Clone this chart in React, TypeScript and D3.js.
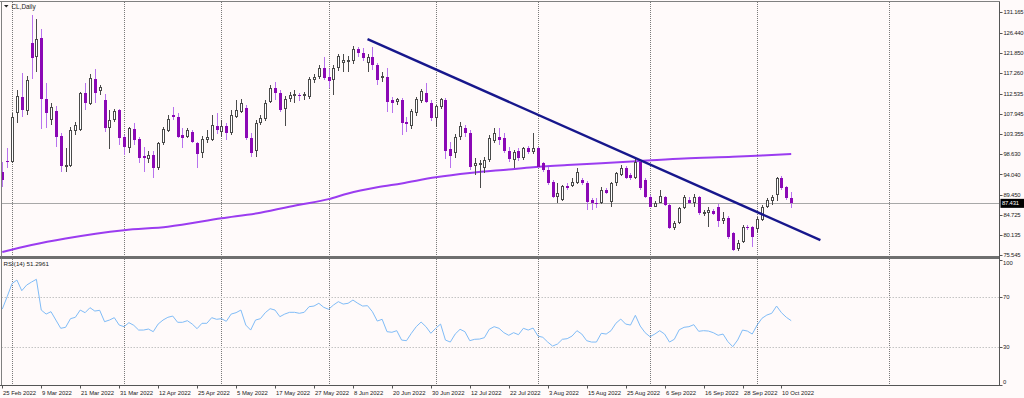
import React from "react";
import * as d3 from "d3";

const W = 1024;
const H = 398;

// ---------- data ----------
const opens = [
  94.7, 97.2, 97.0, 108.0, 111.8, 108.6, 124.1, 121.0, 125.2, 111.2,
  106.4, 108.6, 102.8, 95.8, 96.0, 104.1, 104.2, 112.6, 110.2, 115.8,
  113.1, 111.0, 104.6, 106.4, 108.8, 102.6, 100.0, 104.4, 102.1, 98.3,
  97.5, 98.5, 95.5, 101.2, 104.1, 107.7, 107.1, 103.0, 102.7, 103.8,
  101.2, 99.0, 101.9, 101.9, 105.1, 103.8, 105.1, 103.5, 107.3, 108.4,
  109.2, 102.5, 99.3, 105.8, 106.7, 110.7, 113.8, 112.8, 109.0, 111.2,
  112.1, 112.3, 111.9, 111.8, 115.7, 116.4, 118.3, 116.4, 115.7, 118.3,
  119.5, 119.7, 120.0, 122.7, 121.9, 119.5, 121.0, 119.1, 116.1, 116.4,
  111.0, 110.6, 111.0, 106.1, 105.1, 108.0, 110.9, 112.6, 110.5, 106.9,
  109.4, 111.0, 99.8, 98.9, 102.6, 104.7, 103.6, 96.0, 96.3, 95.5,
  97.4, 101.6, 102.7, 102.3, 99.5, 97.3, 99.3, 97.7, 100.0, 99.2,
  100.0, 96.6, 95.1, 92.4, 89.0, 88.2, 91.3, 91.4, 92.0, 92.8,
  92.2, 88.2, 87.6, 87.4, 90.5, 87.8, 92.0, 93.9, 95.5, 93.9,
  93.2, 97.0, 92.8, 89.0, 86.7, 87.6, 89.0, 87.1, 81.7, 82.9,
  86.3, 88.2, 87.6, 89.0, 85.0, 85.2, 85.6, 86.5, 83.5, 84.0,
  80.6, 76.9, 78.7, 82.1, 82.1, 81.5, 83.6, 86.7, 88.05, 89.35,
  93.3, 91.1, 88.6,
];
const highs = [
  97.0, 100.1, 108.1, 113.4, 117.2, 116.6, 130.5, 129.6, 127.4, 114.9,
  110.3, 109.6, 103.5, 100.0, 105.0, 106.1, 113.0, 115.0, 117.0, 118.1,
  114.5, 112.5, 108.8, 109.0, 109.0, 103.1, 105.0, 105.8, 102.7, 100.4,
  99.3, 99.3, 101.5, 104.8, 107.7, 109.4, 108.0, 104.6, 104.6, 104.2,
  101.5, 102.8, 104.2, 107.6, 108.0, 106.5, 105.8, 108.8, 111.0, 111.2,
  109.9, 103.5, 106.5, 107.6, 111.0, 114.5, 115.3, 113.3, 112.0, 113.0,
  113.4, 112.7, 112.9, 116.4, 117.0, 119.0, 121.0, 118.1, 119.0, 121.6,
  121.6, 121.2, 123.5, 123.2, 123.0, 121.6, 123.3, 119.5, 117.6, 118.3,
  111.8, 111.5, 111.5, 107.3, 109.0, 111.8, 113.5, 114.9, 111.0, 110.0,
  111.5, 111.5, 101.5, 103.2, 106.0, 105.4, 104.2, 97.7, 97.4, 98.0,
  103.0, 104.7, 104.7, 103.5, 100.3, 99.6, 100.0, 100.4, 100.6, 103.5,
  100.4, 97.0, 95.8, 92.8, 92.0, 91.6, 92.0, 93.2, 95.5, 93.2,
  92.6, 88.6, 88.6, 91.2, 90.9, 92.4, 94.7, 96.2, 96.0, 94.3,
  97.5, 97.4, 93.2, 89.3, 87.9, 90.5, 89.1, 87.3, 83.5, 86.7,
  89.4, 89.0, 89.5, 89.1, 85.9, 86.7, 86.2, 87.3, 85.5, 84.5,
  80.9, 79.0, 82.5, 82.5, 82.3, 84.4, 87.1, 88.6, 89.35, 93.5,
  93.7, 91.4, 90.1,
];
const lows = [
  91.2, 95.5, 96.6, 105.9, 107.1, 107.7, 116.0, 117.6, 104.4, 104.6,
  105.4, 100.4, 94.5, 94.7, 95.8, 103.1, 104.0, 108.8, 109.9, 110.3,
  112.2, 103.8, 99.8, 106.1, 100.8, 98.5, 98.9, 100.8, 96.6, 94.7,
  96.6, 93.2, 95.1, 100.8, 103.8, 106.5, 102.3, 100.0, 102.3, 101.2,
  95.5, 97.8, 101.2, 101.7, 103.3, 102.6, 101.9, 103.1, 107.0, 108.1,
  102.0, 98.0, 98.1, 105.3, 106.2, 110.4, 111.0, 108.3, 105.1, 110.7,
  110.4, 110.9, 111.0, 111.4, 115.0, 115.8, 115.7, 113.9, 112.2, 117.8,
  117.5, 117.6, 119.3, 121.0, 119.9, 117.6, 118.0, 114.5, 115.3, 108.4,
  108.2, 110.0, 103.1, 103.8, 104.5, 107.5, 110.5, 110.3, 106.3, 105.0,
  109.0, 97.5, 95.5, 97.9, 101.9, 102.6, 95.1, 93.9, 90.9, 94.3,
  97.0, 101.2, 100.8, 98.9, 96.8, 95.5, 97.2, 97.4, 98.7, 98.7,
  95.5, 94.7, 91.6, 88.6, 87.4, 88.0, 90.5, 91.2, 91.9, 91.6,
  85.9, 85.9, 86.3, 87.2, 89.6, 86.7, 91.4, 93.7, 92.9, 92.8,
  92.9, 90.6, 88.7, 86.5, 86.5, 87.4, 86.8, 81.5, 81.3, 82.7,
  86.1, 87.3, 86.7, 84.8, 84.5, 82.1, 84.7, 82.1, 82.8, 79.3,
  76.6, 76.6, 78.3, 81.3, 77.5, 80.7, 83.4, 86.3, 87.0, 88.05,
  90.5, 88.2, 86.3,
];
const closes = [
  92.8, 96.8, 107.3, 112.1, 108.8, 115.7, 120.6, 125.0, 111.2, 108.2,
  109.4, 102.7, 96.0, 96.2, 104.2, 105.4, 112.6, 110.5, 116.1, 112.8,
  114.0, 104.6, 106.5, 108.6, 102.3, 100.4, 104.6, 101.9, 97.7, 97.7,
  98.5, 95.5, 101.3, 104.4, 106.7, 107.1, 102.6, 102.5, 104.2, 101.5,
  98.7, 102.2, 102.6, 105.4, 104.2, 105.1, 103.5, 107.7, 108.8, 110.3,
  102.5, 98.9, 105.8, 106.9, 110.3, 113.8, 112.8, 108.8, 111.4, 112.2,
  112.4, 111.9, 112.4, 115.8, 116.4, 118.3, 116.1, 115.5, 118.3, 121.2,
  120.2, 120.3, 122.7, 121.8, 120.6, 121.0, 119.1, 115.7, 116.6, 110.7,
  110.3, 111.3, 105.8, 105.6, 108.6, 111.2, 113.2, 110.7, 106.9, 109.6,
  111.2, 99.5, 98.2, 102.7, 105.1, 103.6, 95.8, 96.6, 96.7, 97.4,
  102.3, 103.5, 101.9, 99.3, 97.5, 99.2, 97.7, 100.0, 99.2, 100.1,
  95.8, 95.1, 92.0, 89.0, 89.7, 91.4, 90.9, 92.4, 94.7, 92.0,
  87.8, 87.6, 87.3, 90.5, 89.9, 92.0, 94.3, 95.6, 93.2, 93.2,
  97.0, 90.9, 89.0, 86.7, 87.6, 89.1, 87.1, 81.7, 83.0, 86.3,
  89.0, 87.6, 89.0, 85.2, 85.5, 85.9, 85.0, 83.3, 84.0, 79.8,
  76.8, 78.4, 82.1, 81.7, 79.8, 83.8, 86.7, 88.2, 88.96, 93.3,
  90.9, 88.6, 87.431,
];
const rsiValues = [
  60.6, 70.5, 81, 83.8, 75.3, 79.8, 82.2, 84.4, 59.8, 56.6,
  58.5, 51.8, 45.2, 46, 52.9, 54, 59.8, 57.7, 61.7, 59,
  59.6, 50.5, 51.8, 53.7, 47.8, 46.5, 49.7, 47.6, 43.8, 43.8,
  44.6, 42.5, 48.6, 51.8, 54, 55, 50, 50, 51.3, 48.6,
  44.9, 49.2, 49.2, 53.7, 52.4, 52.9, 50.8, 56.6, 57.7, 59.8,
  47.8, 43.8, 51.8, 52.9, 57.7, 60.9, 59.8, 54.5, 56.6, 58,
  58, 57.2, 58, 62.5, 63, 65.2, 62, 60.4, 63.8, 66.5,
  64.6, 65.2, 67.8, 65.2, 63, 63.3, 58.5, 51, 52.4, 42.5,
  42, 43.3, 35.8, 35.3, 41.2, 46.5, 50.2, 46.5, 41.2, 45.2,
  48.6, 35.8, 34.2, 40.6, 44.4, 42.5, 35.3, 36.4, 36.6, 37.7,
  44.4, 46.5, 45.2, 41.7, 39.6, 41.7, 40.1, 45.2, 43.8, 45.4,
  39, 38, 34.2, 31, 32.6, 36.4, 36.9, 39, 43.3, 40.6,
  35.3, 34.2, 34.2, 41.2, 40.6, 43.3, 49.2, 52.6, 48.6, 47.8,
  55.6, 47, 41.7, 38.5, 40.6, 43.3, 40.6, 34.2, 36.4, 44,
  46, 46.5, 48.1, 42.8, 43.3, 43, 41.7, 39.6, 40.6, 34.5,
  30.5, 35.8, 43.8, 43, 40.6, 47.8, 53.2, 55.8, 57.2, 63,
  57.7, 54, 51.3,
];
const maBars = [0, 6, 13, 25, 34, 45, 53, 61, 67, 71, 77, 82, 89, 96, 104, 109, 116, 123, 131, 140, 150, 156, 162];
const maValues = [76.3, 77.9, 79.4, 81.3, 82.1, 84.0, 85.3, 87.1, 88.4, 89.7, 91.1, 92.0, 93.4, 94.4, 95.2, 95.7, 96.2, 96.6, 97.1, 97.7, 98.1, 98.4, 98.7];
const trendBars = [75, 168];
const trendValues = [125.0, 79.0];
const lastPrice = 87.431;
const lastRsi = "51.2961";

const priceTicks = [131.165, 126.44, 121.85, 117.26, 112.535, 107.945, 103.355, 98.63, 94.04, 89.45, 84.725, 80.135, 75.545];
const rsiTicks = [100, 70, 30, 0];
const rsiLevels = [70, 30];
const dateLabels = [
  "25 Feb 2022", "9 Mar 2022", "21 Mar 2022", "31 Mar 2022", "12 Apr 2022", "25 Apr 2022",
  "5 May 2022", "17 May 2022", "27 May 2022", "8 Jun 2022", "20 Jun 2022", "30 Jun 2022",
  "12 Jul 2022", "22 Jul 2022", "3 Aug 2022", "15 Aug 2022", "25 Aug 2022", "6 Sep 2022",
  "16 Sep 2022", "28 Sep 2022", "10 Oct 2022",
];
const dateLabelBars = [0, 8, 16, 24, 32, 40, 48, 56, 64, 72, 80, 88, 96, 104, 112, 120, 128, 136, 144, 152, 160];
const monthGridBars = [2, 25, 45, 67, 89, 110, 133, 155, 182];

// ---------- styles ----------
const BG = "#fffafa";
const FONT = "'Liberation Sans', Arial, sans-serif";
const TXT = "#222";
const BEAR_BODY = "#8b08b5";
const BEAR_WICK = "#b872ee";
const BULL_LINE = "#4a4a4a";
const MA_COLOR = "#9b3cf0";
const TREND_COLOR = "#17178c";
const RSI_COLOR = "#80bcf7";
const GRID = "#7a7a7a";
const AXIS_FS = 5.9;

const PLOT_R = 999.5;
const MAIN_TOP = 1.5;
const MAIN_BOT = 256;
const RSI_TOP = 258.5;
const RSI_BOT = 385.5;

export default function App() {
  const x = d3.scaleLinear().domain([0, 162]).range([2.3, 791.2]);
  const y = d3.scaleLinear().domain([75.545, 131.165]).range([255.3, 12.25]);
  const yr = d3.scaleLinear().domain([0, 100]).range([384.8, 259.8]);

  const maLine = d3
    .line<number>()
    .x((_, k) => x(maBars[k]))
    .y((d) => y(d))
    .curve(d3.curveMonotoneX)(maValues) as string;
  const trendLine = d3
    .line<number>()
    .x((_, k) => x(trendBars[k]))
    .y((d) => y(d))(trendValues) as string;
  const rsiLine = d3
    .line<number>()
    .x((_, k) => x(k))
    .y((d) => yr(d))(rsiValues) as string;

  const candles = opens.map((o, i) => {
    const c = closes[i];
    const hi = highs[i];
    const lo = lows[i];
    const bull = c >= o;
    const r = Math.round(x(i));
    const top = Math.round(y(Math.max(o, c)));
    const bot = Math.round(y(Math.min(o, c)));
    const wy1 = Math.round(y(hi));
    const wy2 = Math.round(y(lo));
    return (
      <g key={i}>
        <line
          x1={r + 0.5}
          x2={r + 0.5}
          y1={wy1}
          y2={wy2}
          stroke={bull ? BULL_LINE : BEAR_WICK}
          strokeWidth={1}
        />
        {bull ? (
          <rect
            x={r - 0.5}
            y={top + 0.5}
            width={2}
            height={Math.max(bot - top - 1, 0.01)}
            fill="#ffffff"
            stroke={BULL_LINE}
            strokeWidth={1}
          />
        ) : (
          <rect x={r - 1} y={top} width={3} height={Math.max(bot - top, 1)} fill={BEAR_BODY} />
        )}
      </g>
    );
  });

  return (
    <svg
      width={W}
      height={H}
      viewBox={`0 0 ${W} ${H}`}
      style={{ position: "absolute", left: 0, top: 0, display: "block" }}
      fontFamily={FONT}
    >
      <rect x={0} y={0} width={W} height={H} fill={BG} />

      {/* vertical month grid */}
      {monthGridBars.map((b) => (
        <g key={"g" + b} shapeRendering="crispEdges">
          <line x1={Math.round(x(b)) + 0.5} x2={Math.round(x(b)) + 0.5} y1={MAIN_TOP} y2={MAIN_BOT} stroke={GRID} strokeDasharray="1 1" />
          <line x1={Math.round(x(b)) + 0.5} x2={Math.round(x(b)) + 0.5} y1={RSI_TOP} y2={RSI_BOT} stroke={GRID} strokeDasharray="1 1" />
        </g>
      ))}

      {/* RSI levels */}
      {rsiLevels.map((v) => (
        <line key={"l" + v} x1={1.5} x2={PLOT_R} y1={Math.round(yr(v)) + 0.5} y2={Math.round(yr(v)) + 0.5} stroke="#c4c4c4" strokeDasharray="1.5 1.5" />
      ))}

      {/* last price line */}
      <line x1={1.5} x2={PLOT_R} y1={Math.round(y(lastPrice)) + 0.5} y2={Math.round(y(lastPrice)) + 0.5} stroke="#a8a8a8" strokeWidth={1} />

      {/* moving average */}
      <path d={maLine} fill="none" stroke={MA_COLOR} strokeWidth={2} />

      {/* candles */}
      <g shapeRendering="crispEdges">{candles}</g>

      {/* trend line */}
      <path d={trendLine} fill="none" stroke={TREND_COLOR} strokeWidth={2.4} />

      {/* RSI */}
      <path d={rsiLine} fill="none" stroke={RSI_COLOR} strokeWidth={1} />

      {/* frame */}
      <g shapeRendering="crispEdges">
        <line x1={0} x2={PLOT_R} y1={MAIN_TOP} y2={MAIN_TOP} stroke="#808080" />
        <line x1={1.5} x2={1.5} y1={MAIN_TOP} y2={RSI_BOT} stroke="#808080" />
        <rect x={0} y={256} width={PLOT_R} height={2.5} fill="#6f6f6f" />
        <line x1={0} x2={PLOT_R} y1={RSI_BOT} y2={RSI_BOT} stroke="#555" />
        <line x1={PLOT_R} x2={PLOT_R} y1={MAIN_TOP} y2={RSI_BOT} stroke="#555" />
      </g>

      {/* price axis */}
      {priceTicks.map((p) => (
        <g key={"p" + p}>
          <line x1={PLOT_R} x2={PLOT_R + 3} y1={Math.round(y(p)) + 0.5} y2={Math.round(y(p)) + 0.5} stroke="#555" />
          <text x={1003.5} y={y(p)} dy="0.35em" fontSize={AXIS_FS} letterSpacing={-0.2} fill={TXT}>
            {d3.format(".3f")(p)}
          </text>
        </g>
      ))}
      <rect x={1000.5} y={y(lastPrice) - 4.5} width={23.5} height={9} fill="#000" />
      <text x={1002} y={y(lastPrice)} dy="0.35em" fontSize={AXIS_FS} letterSpacing={-0.2} fill="#fff">
        {d3.format(".3f")(lastPrice)}
      </text>

      {/* RSI axis */}
      {rsiTicks.map((v) => {
        const yy = v === 100 ? yr(v) + 3 : v === 0 ? yr(v) - 3 : yr(v);
        return (
          <g key={"r" + v}>
            <line x1={PLOT_R} x2={PLOT_R + 3} y1={Math.round(yr(v)) + 0.5} y2={Math.round(yr(v)) + 0.5} stroke="#555" />
            <text x={1003} y={yy} dy="0.35em" fontSize={AXIS_FS} fill={TXT}>
              {v}
            </text>
          </g>
        );
      })}

      {/* date axis */}
      {dateLabels.map((t, k) => {
        const xx = Math.round(x(dateLabelBars[k]));
        return (
          <g key={"d" + k}>
            <line x1={xx + 0.5} x2={xx + 0.5} y1={RSI_BOT} y2={RSI_BOT + 3} stroke="#555" />
            <text x={xx + 1} y={394.5} fontSize={AXIS_FS} fill={TXT}>
              {t}
            </text>
          </g>
        );
      })}

      {/* titles */}
      <path d="M4,5 L8.5,5 L6.25,7.5 Z" fill="#222" />
      <text x={11.5} y={8.5} fontSize={6.4} fill={TXT}>
        CL,Daily
      </text>
      <text x={3.5} y={266} fontSize={6.2} fill={TXT}>
        {`RSI(14) ${lastRsi}`}
      </text>
    </svg>
  );
}
